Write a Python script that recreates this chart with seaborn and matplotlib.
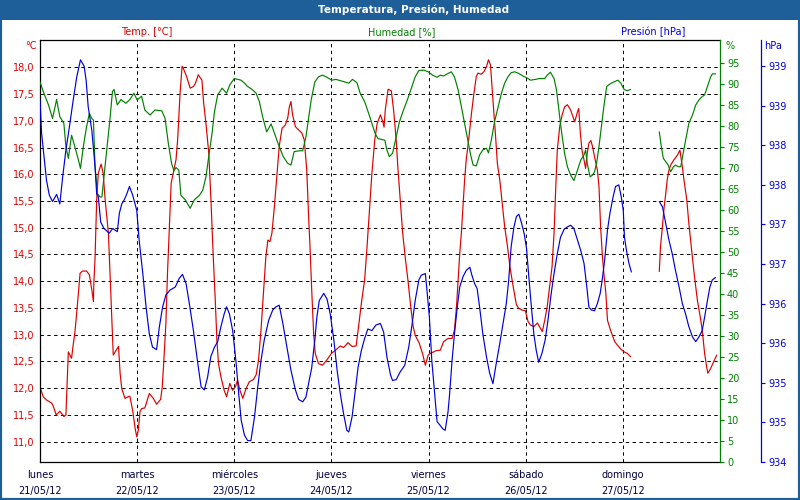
import math

import numpy as np
import pandas as pd
import matplotlib
matplotlib.use('Agg')
import matplotlib.pyplot as plt
from matplotlib.patches import Rectangle
from matplotlib.ticker import FuncFormatter, FixedLocator
import seaborn as sns

# one week of station data, x = hours since lunes 21/05/12 00:00
DAY_NAMES = ['lunes', 'martes', 'miércoles', 'jueves', 'viernes', 'sábado', 'domingo']
DAY_DATES = ['21/05/12', '22/05/12', '23/05/12', '24/05/12', '25/05/12', '26/05/12', '27/05/12']
GAP_HOUR = 150  # no readings for a few hours on domingo

temp_hours = [
    0.0, 0.8, 1.6, 2.9, 3.3, 4.0, 4.9, 5.9, 6.4, 7.0, 7.8, 8.2, 8.6, 9.2, 9.9, 10.5, 11.5, 12.2,
    12.8, 13.2, 13.3, 13.6, 14.0, 14.4, 15.1, 15.6, 16.1, 16.9, 17.3, 17.7, 18.1, 18.8, 19.4, 19.8,
    20.2, 21.0, 21.8, 22.2, 22.9, 23.5, 23.9, 24.3, 24.7, 25.1, 25.9, 26.5, 27.0, 28.0, 28.8, 29.8,
    30.2, 30.6, 31.1, 31.5, 32.0, 32.4, 32.9, 33.4,
    33.6, 34.0, 34.6, 35.1, 35.4, 36.2, 37.1, 37.9, 38.4, 39.1, 40.0, 40.4, 41.0, 41.7, 42.2, 42.8,
    43.3, 43.7, 44.1, 44.7, 45.5, 46.1, 46.9, 47.6, 48.3, 48.8, 49.4, 50.1, 50.9, 51.7, 52.7, 53.4,
    54.0, 54.6, 55.2, 55.8, 56.3, 56.8, 57.3, 57.9, 58.5, 59.1, 59.8, 60.6, 61.2, 61.6, 62.0, 62.4,
    63.1, 63.9, 64.7, 65.3, 65.9, 66.4, 66.7, 67.0,
    67.2, 67.6, 68.0, 68.8, 69.8, 70.9, 72.0, 73.0, 74.2, 75.0, 76.1, 77.1, 78.1, 78.7, 79.5, 80.2,
    80.8, 81.4, 82.0, 82.7, 83.3, 84.1, 84.7, 85.0, 85.3, 86.0, 86.8, 87.4, 88.0, 88.4, 89.0, 89.6,
    90.3, 90.9, 91.6, 92.2, 92.7, 93.7, 94.5, 95.2, 95.9, 96.4, 97.3, 97.8, 98.9, 99.7, 100.8,
    101.8, 102.4, 102.9, 103.3, 103.7, 104.1, 104.5, 104.9, 105.3, 105.9, 106.6, 107.2, 107.8, 108.2,
    109.0, 109.7, 110.3, 110.8, 111.3, 111.9, 112.5, 113.0, 113.6, 114.1, 114.8, 115.5, 116.1, 116.9,
    117.7, 118.3, 119.1, 119.9, 120.6, 121.2, 122.0, 122.9, 123.4, 124.1, 124.7, 125.3, 125.9, 126.5,
    127.0, 127.4, 127.8, 128.4, 129.0, 129.6, 130.3, 131.1, 132.1, 132.8, 133.1, 133.5, 133.9, 134.4,
    134.8, 135.2, 135.6, 136.1, 136.5, 137.0, 137.7, 138.1, 138.5, 138.9, 139.3, 139.8, 140.2, 140.8,
    141.4, 142.0, 142.6, 143.5, 144.3, 145.1, 145.9,
    153.0, 153.3, 153.7, 154.2, 154.6, 155.0, 155.4, 155.8, 156.6, 157.5, 158.1, 158.7, 159.1, 159.8,
    160.3, 160.9, 161.6, 162.4, 163.1, 163.6, 164.2, 164.7, 165.0, 165.7, 166.4, 167.2,
]
temp_values = [
    12.02, 11.84, 11.78, 11.72, 11.66, 11.50, 11.57, 11.47, 11.50, 12.68, 12.56, 12.81, 13.03, 13.52,
    14.15, 14.19, 14.19, 14.12, 13.84, 13.62, 13.96, 14.43, 15.52, 16.02, 16.19, 16.02, 15.52, 14.90,
    14.15, 13.40, 12.62, 12.71, 12.78, 12.27, 11.99, 11.81, 11.84, 11.85, 11.58, 11.25, 11.09, 11.22,
    11.56, 11.62, 11.63, 11.78, 11.90, 11.81, 11.70, 11.79, 12.02, 12.52, 13.21, 14.15, 15.08, 15.83,
    16.02, 16.20,
    16.27, 16.64, 17.51, 18.02, 17.98, 17.83, 17.61, 17.64, 17.70, 17.86, 17.76, 17.36, 16.95, 16.39,
    15.58, 14.46, 13.65, 12.90, 12.46, 12.21, 11.96, 11.84, 12.09, 11.96, 12.03, 12.15, 11.96, 11.81,
    11.99, 12.12, 12.16, 12.25, 12.53, 13.09, 13.77, 14.46, 14.77, 14.74, 14.90, 15.39, 15.96, 16.52,
    16.86, 16.92, 17.05, 17.26, 17.36, 17.11, 16.89, 16.83, 16.77, 16.64, 16.08, 15.14, 14.65, 14.08,
    13.71, 13.03, 12.65, 12.46, 12.43, 12.53, 12.65, 12.71, 12.79, 12.76, 12.85, 12.78, 12.79, 13.15,
    13.65, 14.02, 14.65, 15.33, 16.02, 16.64, 16.95, 17.11, 16.98, 16.88, 17.20, 17.59, 17.56, 17.17,
    16.64, 16.14, 15.52, 14.90, 14.40, 14.02, 13.52, 13.15, 12.99, 12.84, 12.65, 12.43, 12.62, 12.65,
    12.68, 12.70, 12.71, 12.87, 12.93,
    12.93, 13.09, 13.52, 14.02, 14.52, 14.90, 15.39, 15.89, 16.27, 16.64, 17.14, 17.51, 17.83, 17.89,
    17.87, 17.92, 18.01, 18.14, 18.04, 17.39, 16.77, 16.20, 15.89, 15.52, 15.02, 14.65, 14.27, 13.90,
    13.56, 13.49, 13.46, 13.45, 13.24, 13.18, 13.15, 13.22, 13.15, 13.06, 13.27, 13.52, 13.90, 14.27,
    14.90, 15.71, 16.45, 16.89, 17.11, 17.26, 17.30, 17.20, 16.98, 17.17, 17.23, 16.77, 16.45, 16.27,
    16.11, 16.39, 16.58, 16.63, 16.52, 16.33, 16.08, 15.77, 15.02, 14.52, 14.15, 13.77, 13.27, 13.12,
    12.99, 12.87, 12.81, 12.73, 12.68, 12.65, 12.59,
    14.18, 14.65, 14.96, 15.39, 15.64, 15.92, 16.08, 16.17, 16.27, 16.36, 16.45, 16.14, 15.89, 15.52,
    15.08, 14.65, 14.15, 13.65, 13.34, 13.09, 12.65, 12.40, 12.28, 12.37, 12.49, 12.62,
]

hum_hours = [
    0.0, 0.8, 2.1, 3.1, 4.1, 4.9, 5.9, 6.4, 7.0, 7.8, 8.6, 9.5, 10.0, 10.7, 11.5, 12.2, 12.8, 13.2,
    13.6, 14.2, 14.8, 15.3, 15.8, 16.5, 17.3, 17.9, 18.3, 19.1, 20.0, 21.2, 22.2, 23.2, 24.0, 25.1,
    25.9, 27.2, 28.4, 30.1, 30.9, 31.7, 32.5, 33.1,
    33.6, 34.3, 34.8, 35.9, 37.1, 38.1, 39.4, 40.2, 41.0, 41.8, 42.5, 43.1, 43.9, 45.0, 46.1, 46.9,
    48.0, 49.7, 50.5, 51.3, 52.4, 53.4, 54.2, 55.0, 56.0, 57.1, 58.1, 59.1, 60.1, 61.2, 62.0, 62.8,
    64.1, 64.9, 65.7, 66.4, 67.0,
    67.9, 68.8, 69.8, 70.9, 72.1, 73.1, 74.2, 75.4, 76.3, 77.2, 78.3, 79.1, 80.2, 81.2, 82.0, 82.8,
    83.5, 84.3, 85.2, 85.7, 86.3, 87.1, 88.0, 88.8, 89.8, 90.9, 91.9, 92.7, 93.6, 94.8, 95.9, 97.0,
    98.1, 98.9, 99.7, 100.8,
    101.6, 102.4, 103.3, 104.1, 104.9, 105.7, 106.4, 107.0, 107.8, 108.6, 109.4, 110.3, 110.8, 111.5,
    112.3, 113.2, 114.0, 114.8, 115.6, 116.4, 117.3, 118.3, 119.3, 120.2, 121.2, 122.4, 123.4, 124.7,
    125.3, 126.1, 127.0, 127.6, 128.1, 128.8, 129.6, 130.3, 131.1, 131.9, 132.8, 133.6, 134.4,
    134.8, 135.2, 135.9, 136.5, 137.0, 137.5, 138.1, 138.7, 139.3, 140.0, 140.8, 141.8, 142.8, 143.5,
    144.3, 145.1, 145.9,
    153.0, 153.5, 154.0, 154.6, 155.2, 155.8, 156.5, 157.0, 157.7, 158.3, 158.9, 159.5, 160.3, 161.2,
    162.0, 162.8, 163.6, 164.2, 164.9, 165.7, 166.1, 166.9,
]
hum_values = [
    90.5, 88.2, 85.0, 81.8, 86.3, 82.2, 80.6, 75.1, 72.3, 77.8, 75.1, 71.9, 69.9, 75.1, 79.8, 83.0,
    81.8, 81.4, 70.3, 63.9, 63.1, 63.1, 67.9, 74.3, 81.8, 88.2, 88.7, 85.0, 86.3, 85.4, 86.3, 87.8,
    86.2, 87.1, 83.8, 82.6, 83.8, 83.6, 81.8, 75.9, 71.1, 69.3,
    70.1, 69.5, 63.5, 62.4, 60.4, 62.4, 63.5, 64.7, 67.9, 73.5, 78.2, 83.4, 87.4, 89.0, 87.8, 89.8,
    91.3, 90.9, 90.2, 89.4, 88.7, 87.8, 85.8, 82.2, 78.6, 80.5, 77.8, 75.1, 72.7, 71.1, 70.7, 73.9,
    74.1, 74.1, 77.4, 82.2, 86.2,
    90.5, 91.7, 92.1, 91.6, 90.9, 91.1, 90.8, 90.5, 90.2, 91.1, 90.3, 87.8, 85.8, 83.0, 80.6, 78.2,
    77.0, 76.8, 76.6, 74.3, 72.7, 73.5, 77.4, 81.0, 83.8, 86.6, 89.4, 91.7, 93.2, 93.3, 92.9, 92.1,
    91.6, 92.1, 91.9, 92.5,
    92.9, 91.7, 88.6, 84.6, 80.6, 76.6, 73.1, 70.7, 70.5, 73.1, 74.3, 74.7, 73.6, 76.6,
    81.0, 84.6, 87.8, 90.2, 91.7, 92.7, 92.9, 92.5, 91.9, 91.5, 90.9, 91.1, 91.3, 91.3,
    92.1, 92.8, 91.3, 88.6, 84.6, 79.0, 73.5, 70.3, 68.3, 67.0, 69.5, 71.9, 73.1,
    74.3, 71.1, 67.9, 68.3, 69.1, 71.1, 75.1, 79.8, 84.6, 89.4, 90.0, 90.5, 90.9, 90.2,
    88.7, 88.4, 88.7,
    78.6, 75.1, 72.3, 71.5, 70.7, 69.1, 70.3, 70.7, 70.3, 70.3, 73.5, 76.6, 80.6, 82.6,
    85.0, 86.2, 87.0, 87.4, 89.4, 91.7, 92.4, 92.4,
]

pres_hours = [
    0.0, 0.4, 1.0, 1.6, 2.3, 3.1, 4.1, 4.9, 5.6, 6.4, 7.4, 8.2, 9.1, 10.0, 10.9, 11.4, 11.9, 12.8,
    13.6, 14.0, 14.4, 15.0, 15.8, 17.1, 18.0, 18.5, 19.1, 19.6, 20.2, 20.8, 21.4, 22.1, 22.9, 23.9,
    24.5, 25.4, 26.2, 27.0, 27.8, 28.8, 29.5, 30.3, 31.1, 32.1, 33.4,
    33.6, 34.4, 35.2, 36.1, 36.9, 37.9, 39.0, 39.8, 40.6, 41.4, 42.2, 43.1, 43.9, 44.7, 45.5, 46.1,
    46.8, 47.6, 48.4, 49.1, 49.7, 50.5, 51.3, 52.1, 53.0, 53.8, 54.6, 55.4, 56.5, 57.5, 58.3, 59.1,
    60.0, 61.0, 62.0, 63.1, 63.9, 64.9, 65.7, 66.5, 67.1,
    67.9, 68.4, 69.0, 70.1, 70.9, 71.7, 72.6, 73.4, 74.2, 75.0, 75.8, 76.3, 77.1, 77.9, 78.6, 79.4,
    80.2, 81.0, 82.0, 83.0, 84.1, 84.9, 85.7, 86.6, 87.1, 88.0, 89.0, 90.1, 91.1, 91.9, 92.7, 93.6,
    94.2, 95.2, 95.6, 96.2, 96.8, 97.5, 98.1, 98.9, 99.5, 100.1, 100.6, 100.8,
    101.2, 101.8, 102.4, 103.1, 103.7, 104.5, 105.3, 106.2, 106.7, 107.4, 108.0, 108.6, 109.4, 110.3,
    111.1, 111.9, 112.7, 113.6, 114.4, 115.2, 115.8, 116.4, 117.1, 117.7, 118.3, 118.9, 119.6, 120.2,
    120.7, 121.4, 122.0, 122.6, 123.2, 124.0, 124.8, 125.5, 126.3, 127.0, 127.8, 128.6, 129.5, 130.3,
    131.1, 131.9, 132.8, 133.6, 134.4,
    135.1, 135.6, 136.2, 137.0, 137.7, 138.4, 138.9, 139.5, 140.2, 140.8, 141.6, 142.2, 143.0, 143.6,
    144.1, 144.4, 144.9, 145.5, 146.1,
    153.0, 153.8, 154.6, 155.4, 156.2, 157.0, 157.9, 158.7, 159.5, 160.3, 161.2, 162.0, 162.8, 163.6,
    164.2, 164.9, 165.5, 166.1, 166.9,
]
pres_values = [
    938.57, 938.15, 937.85, 937.56, 937.37, 937.29, 937.38, 937.26, 937.60, 937.94, 938.28, 938.57,
    938.87, 939.08, 939.00, 938.82, 938.49, 938.19, 937.73, 937.39, 937.35, 937.03, 936.95, 936.89,
    936.95, 936.93, 936.91, 937.14, 937.26, 937.31, 937.38, 937.48, 937.37, 937.18, 936.80, 936.38,
    935.96, 935.62, 935.45, 935.42, 935.71, 935.96, 936.11, 936.17, 936.21,
    936.23, 936.32, 936.37, 936.25, 936.00, 935.66, 935.24, 934.95, 934.91, 935.07, 935.33, 935.45,
    935.52, 935.71, 935.87, 935.96, 935.87, 935.66, 935.28, 934.86, 934.53, 934.34, 934.27, 934.27,
    934.57, 934.95, 935.28, 935.54, 935.79, 935.92, 935.96, 935.98, 935.75, 935.45, 935.16, 934.91,
    934.79, 934.76, 934.82, 935.03, 935.18,
    935.54, 935.83, 936.04, 936.13, 936.06, 935.87, 935.54, 935.16, 934.86, 934.61, 934.40, 934.38,
    934.57, 934.91, 935.20, 935.41, 935.56, 935.68, 935.66, 935.73, 935.75, 935.64, 935.33, 935.10,
    935.03, 935.04, 935.14, 935.22, 935.45, 935.73, 936.04, 936.30, 936.36, 936.38, 936.17, 935.83,
    935.28, 934.86, 934.51, 934.46, 934.42, 934.40, 934.57, 934.63,
    934.86, 935.28, 935.62, 935.96, 936.21, 936.34, 936.42, 936.46, 936.36, 936.25, 936.19, 935.96,
    935.62, 935.33, 935.12, 934.99, 935.24, 935.50, 935.75, 936.00, 936.30, 936.72, 936.97, 937.10,
    937.13, 937.03, 936.89, 936.70, 936.38, 935.96, 935.62, 935.41, 935.26, 935.37, 935.54, 935.79,
    936.13, 936.38, 936.63, 936.84, 936.94, 936.97, 936.99, 936.95, 936.80, 936.67, 936.51,
    936.21, 935.96, 935.92, 935.91, 936.00, 936.13, 936.30, 936.55, 936.93, 937.14, 937.35, 937.48,
    937.50, 937.35, 937.18, 936.84, 936.67, 936.51, 936.40,
    937.29, 937.22, 937.01, 936.80, 936.63, 936.42, 936.21, 936.00, 935.87, 935.71, 935.58, 935.52,
    935.58, 935.66, 935.83, 936.04, 936.21, 936.30, 936.33,
]

RED = '#dd0000'
GREEN = '#008000'
BLUE = '#0000dd'
FRAME = '#1f5f99'
TEXT_DARK = '#000040'
FS = 7


def series_frame(hours, values):
    df = pd.DataFrame({'hour': hours, 'value': values})
    df['segment'] = (df['hour'] > GAP_HOUR).astype(int)
    return df


def draw_series(ax, df, colour):
    sns.lineplot(data=df, x='hour', y='value', units='segment', estimator=None,
                 sort=False, color=colour, linewidth=0.85, ax=ax)
    ax.set_xlabel('')
    ax.set_ylabel('')


def main():
    sns.set_style('white')
    plt.rcParams['font.family'] = ['DejaVu Sans']

    fig = plt.figure(figsize=(8, 5), dpi=100)
    ax = fig.add_axes([40 / 800, 38 / 500, 680 / 800, 422 / 500])
    ax_h = ax.twinx()
    ax_p = ax.twinx()

    draw_series(ax, series_frame(temp_hours, temp_values), RED)
    draw_series(ax_h, series_frame(hum_hours, hum_values), GREEN)
    draw_series(ax_p, series_frame(pres_hours, pres_values), BLUE)

    # x: one tick per day
    ax.set_xlim(0, 168)
    ax.xaxis.set_major_locator(FixedLocator(np.arange(0, 168, 24)))
    ax.set_xticklabels([f'{d}\n{s}' for d, s in zip(DAY_NAMES, DAY_DATES)])
    ax.tick_params(axis='x', length=0, labelsize=FS, labelcolor=TEXT_DARK, pad=6)
    for lbl in ax.get_xticklabels():
        lbl.set_linespacing(1.7)

    # temperature (left)
    ax.set_ylim(10.62, 18.51)
    ax.yaxis.set_major_locator(FixedLocator(np.arange(11.0, 18.01, 0.5)))
    ax.yaxis.set_major_formatter(FuncFormatter(lambda v, _: f'{v:.1f}'.replace('.', ',')))
    ax.tick_params(axis='y', length=0, labelsize=FS, labelcolor=RED, pad=4)
    ax.grid(True, color='black', linestyle=(0, (3.5, 3.5)), linewidth=0.7)
    ax.set_axisbelow(True)
    for side in ['left', 'top', 'bottom']:
        ax.spines[side].set_color('black')
        ax.spines[side].set_linewidth(0.9)
    ax.spines['right'].set_visible(False)

    # humidity (first right axis)
    ax_h.set_ylim(0, 100.47)
    ax_h.yaxis.set_major_locator(FixedLocator(np.arange(0, 100, 5)))
    ax_h.tick_params(axis='y', direction='out', length=3, width=0.8, color=GREEN,
                     labelcolor=GREEN, labelsize=FS, pad=2)
    ax_h.spines['right'].set_color(GREEN)
    ax_h.spines['right'].set_linewidth(0.9)
    for side in ['left', 'top', 'bottom']:
        ax_h.spines[side].set_visible(False)

    # pressure (outer right axis); labels are whole hPa on half-hPa ticks
    ax_p.set_ylim(934.0, 939.33)
    ax_p.yaxis.set_major_locator(FixedLocator(np.arange(934.0, 939.01, 0.5)))
    ax_p.yaxis.set_major_formatter(FuncFormatter(lambda v, _: f'{math.floor(v + 0.5):d}'))
    ax_p.spines['right'].set_position(('axes', 721 / 680))
    ax_p.spines['right'].set_color(BLUE)
    ax_p.spines['right'].set_linewidth(0.9)
    for side in ['left', 'top', 'bottom']:
        ax_p.spines[side].set_visible(False)
    ax_p.tick_params(axis='y', direction='out', length=3, width=0.8, color=BLUE,
                     labelcolor=BLUE, labelsize=FS, pad=2)

    # frame, title bar and captions
    fig.patches.append(Rectangle((0, 480 / 500), 1, 20 / 500, transform=fig.transFigure,
                                 facecolor=FRAME, edgecolor='none', zorder=0))
    fig.patches.append(Rectangle((0, 0), 1, 1, transform=fig.transFigure, fill=False,
                                 edgecolor=FRAME, linewidth=3, zorder=0))
    fig.text(414 / 800, 1 - 10 / 500, 'Temperatura, Presión, Humedad', color='white',
             weight='bold', size=7.5, ha='center', va='center')
    fig.text(147 / 800, 1 - 32 / 500, 'Temp. [°C]', color=RED, size=FS, ha='center', va='center')
    fig.text(402 / 800, 1 - 32 / 500, 'Humedad [%]', color=GREEN, size=FS, ha='center', va='center')
    fig.text(653 / 800, 1 - 32 / 500, 'Presión [hPa]', color=BLUE, size=FS, ha='center', va='center')
    fig.text(37 / 800, 1 - 46 / 500, '°C', color=RED, size=FS, ha='right', va='center')
    fig.text(725 / 800, 1 - 46 / 500, '%', color=GREEN, size=FS, ha='left', va='center')
    fig.text(764 / 800, 1 - 46 / 500, 'hPa', color=BLUE, size=FS, ha='left', va='center')

    fig.savefig('out.png', dpi=100)
    plt.close(fig)


if __name__ == '__main__':
    main()
